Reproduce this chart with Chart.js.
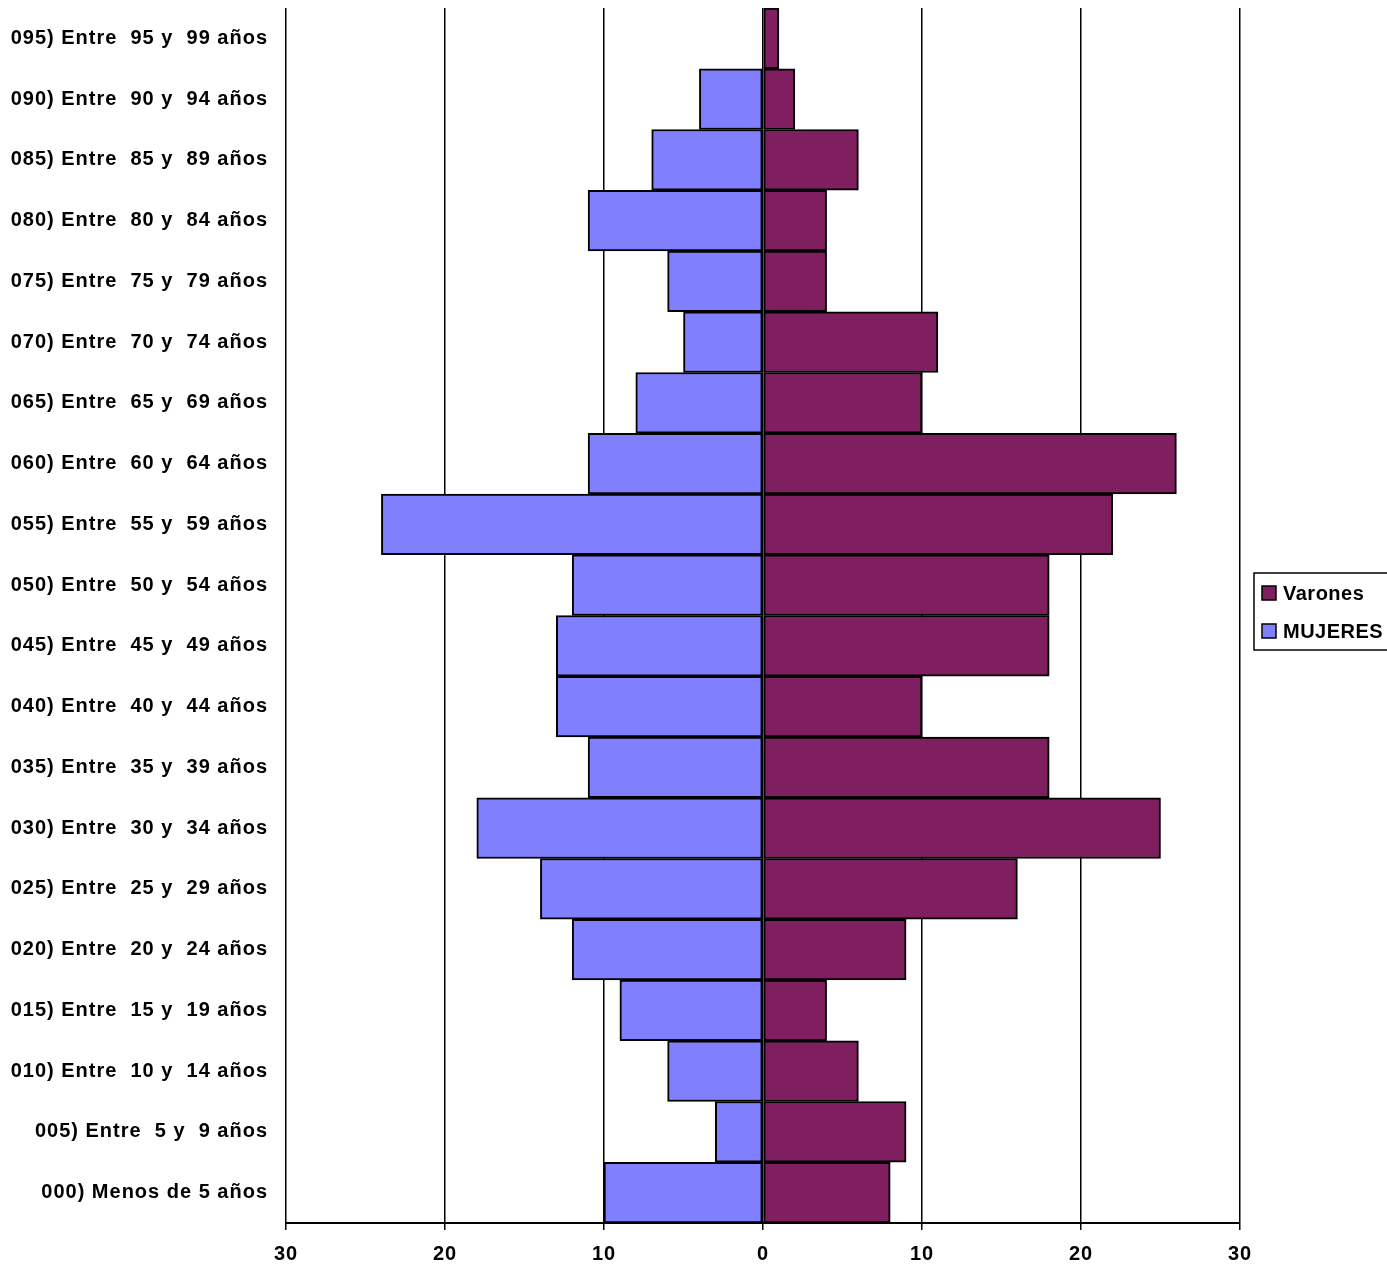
<!DOCTYPE html>
<html>
<head>
<meta charset="utf-8">
<script src="https://cdn.jsdelivr.net/npm/chart.js@4.4.0/dist/chart.umd.min.js"></script>
<style>
  html, body { margin: 0; padding: 0; background: #fff; }
  #wrap { width: 1387px; height: 1264px; }
</style>
</head>
<body>
<div id="wrap"><canvas id="myChart" width="1387" height="1264"></canvas></div>
<script>
// age groups, top to bottom as in the picture
const groups = [
  '095) Entre  95 y  99 años',
  '090) Entre  90 y  94 años',
  '085) Entre  85 y  89 años',
  '080) Entre  80 y  84 años',
  '075) Entre  75 y  79 años',
  '070) Entre  70 y  74 años',
  '065) Entre  65 y  69 años',
  '060) Entre  60 y  64 años',
  '055) Entre  55 y  59 años',
  '050) Entre  50 y  54 años',
  '045) Entre  45 y  49 años',
  '040) Entre  40 y  44 años',
  '035) Entre  35 y  39 años',
  '030) Entre  30 y  34 años',
  '025) Entre  25 y  29 años',
  '020) Entre  20 y  24 años',
  '015) Entre  15 y  19 años',
  '010) Entre  10 y  14 años',
  '005) Entre  5 y  9 años',
  '000) Menos de 5 años'
];
const varones = [1, 2, 6, 4, 4, 11, 10, 26, 22, 18, 18, 10, 18, 25, 16, 9, 4, 6, 9, 8];
const mujeres = [0, 4, 7, 11, 6, 5, 8, 11, 24, 12, 13, 13, 11, 18, 14, 12, 9, 6, 3, 10];
const xTicks = [-30, -20, -10, 0, 10, 20, 30];

const labelFont = { family: 'Arial, "Liberation Sans", sans-serif', size: 20, weight: 'bold', lineHeight: 1 };

// the old spreadsheet text is a bit spaced out
const spacing = {
  id: 'spacing',
  beforeUpdate(chart) { chart.ctx.letterSpacing = '1px'; },
  beforeDraw(chart) { chart.ctx.letterSpacing = '1px'; }
};

// legend box drawn by hand, like the old spreadsheet one
const legendBox = {
  id: 'legendBox',
  afterDraw(chart) {
    const c = chart.ctx;
    c.save();
    c.letterSpacing = '0.5px';
    c.strokeStyle = '#000';
    c.lineWidth = 1.5;
    c.strokeRect(1254, 573, 140, 77);
    c.font = 'bold 20px Arial, "Liberation Sans", sans-serif';
    c.textBaseline = 'middle';
    chart.data.datasets.forEach(function (ds, i) {
      const y = 593 + i * 38;
      c.fillStyle = ds.backgroundColor;
      c.fillRect(1262, y - 7, 14, 14);
      c.strokeStyle = '#000';
      c.lineWidth = 1.5;
      c.strokeRect(1262, y - 7, 14, 14);
      c.fillStyle = '#000';
      c.fillText(ds.label, 1283, y + 1);
    });
    c.restore();
  }
};

const ctx = document.getElementById('myChart').getContext('2d');
const myChart = new Chart(ctx, {
  type: 'bar',
  data: {
    labels: groups,
    datasets: [{
      label: 'Varones',
      data: varones,
      backgroundColor: '#7f1f5f',
      borderColor: '#000',
      borderWidth: 2,
      borderSkipped: false
    },
    {
      label: 'MUJERES',
      data: mujeres.map(function (v) { return -v; }),
      backgroundColor: '#8080ff',
      borderColor: '#000',
      borderWidth: 2,
      borderSkipped: false
    }]
  },
  options: {
    indexAxis: 'y',
    responsive: false,
    animation: false,
    layout: { padding: { left: 0, right: 147, top: 8, bottom: 0 } },
    datasets: { bar: { categoryPercentage: 1, barPercentage: 1 } },
    scales: {
      x: {
        stacked: true,
        min: -30,
        max: 30,
        afterBuildTicks: function (axis) {
          axis.ticks = xTicks.map(function (v) { return { value: v }; });
        },
        afterFit: function (axis) { axis.height -= 14; },
        ticks: {
          color: '#000',
          font: labelFont,
          padding: 14,
          callback: function (v) { return Math.abs(v); }
        },
        grid: { color: '#000', lineWidth: 1.5, tickLength: 7, tickColor: '#000' },
        border: { color: '#000', width: 2 }
      },
      y: {
        stacked: true,
        afterFit: function (axis) { axis.width = 286; axis.paddingTop = 0; axis.paddingBottom = 0; },
        ticks: { color: '#000', font: labelFont, padding: 10, autoSkip: false },
        grid: { display: false },
        border: { display: false }
      }
    },
    plugins: {
      legend: { display: false },
      tooltip: { enabled: false }
    }
  },
  plugins: [spacing, legendBox]
});
</script>
</body>
</html>
